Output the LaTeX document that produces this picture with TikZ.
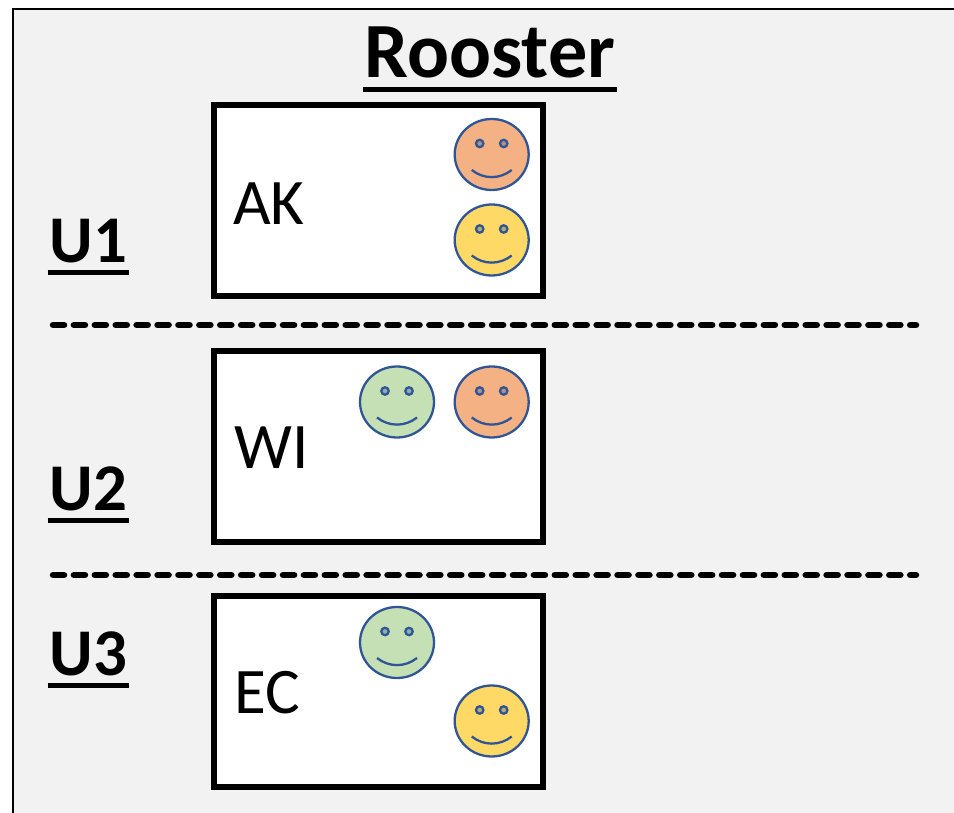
\documentclass[tikz,border=0pt]{standalone}
\usepackage{amssymb,amsmath}
\usepackage{fontspec}
\setmainfont{Carlito}
\definecolor{panelgray}{HTML}{F2F2F2}
\definecolor{faceline}{HTML}{2F5597}
\definecolor{faceorange}{HTML}{F4B183}
\definecolor{faceyellow}{HTML}{FFD966}
\definecolor{facegreen}{HTML}{C5E0B4}
\tikzset{
  rosterbox/.style={draw=black,fill=white,line width=3.3pt,minimum width=187.5pt,minimum height=109pt,inner sep=0pt},
  unitlabel/.style={font=\fontsize{38}{38}\selectfont\bfseries,anchor=base west,inner sep=0pt,text depth=5.4pt},
  namelabel/.style={font=\fontsize{37}{37}\selectfont,anchor=base west,inner sep=0pt},
  rule/.style={line width=2.9pt,shorten <=-1pt,shorten >=-1pt},
  divider/.style={line width=3.7pt,line cap=round,dash pattern=on 6.3pt off 5.6pt}
}
\newcommand{\smiley}[3]{
\begin{scope}[shift={(#1,#2)}]
\filldraw[fill=#3,draw=faceline,line width=1.3pt] (0,0) ellipse (37 and 35.5);
\filldraw[fill=#3!65!faceline,draw=faceline,line width=1.3pt] (-12,-11) circle (3.7);
\filldraw[fill=#3!65!faceline,draw=faceline,line width=1.3pt] (12,-11) circle (3.7);
\draw[draw=faceline,line width=1.3pt] (-20,15.5) .. controls (-8,25) and (8,25) .. (20,15.5);
\end{scope}
}

\begin{document}
\begin{tikzpicture}[x=0.02cm,y=-0.02cm]
\useasboundingbox (0,0) rectangle (954,813);
\fill[panelgray] (13,9) rectangle (954,813);
\draw[line width=1.5pt] (13,813) -- (13,9) -- (954,9);

\node[font=\fontsize{44.5}{44.5}\selectfont\bfseries,anchor=base,inner sep=0pt,text depth=6.2pt] (rooster) at (490,78) {Rooster};
\draw[rule] (rooster.south west) -- (rooster.south east);

\node[rosterbox] (boxak) at (378.5,200.5) {};
\node[rosterbox] (boxwi) at (378.5,446.5) {};
\node[rosterbox] (boxec) at (378.5,691.5) {};

\node[namelabel] (ak) at (233,225) {AK};
\node[namelabel] (wi) at (234,469) {WI};
\node[namelabel] (ec) at (234,714) {EC};

\node[unitlabel] (u1) at (49.5,263) {U1};
\node[unitlabel] (u2) at (49.5,511) {U2};
\node[unitlabel] (u3) at (49.5,676) {U3};
\draw[rule] (u1.south west) -- (u1.south east);
\draw[rule] (u2.south west) -- (u2.south east);
\draw[rule] (u3.south west) -- (u3.south east);

\coordinate (div1a) at (53,325);
\coordinate (div1b) at (916,325);
\coordinate (div2a) at (53,575);
\coordinate (div2b) at (916,575);
\draw[divider] (div1a) -- (div1b);
\draw[divider] (div2a) -- (div2b);

\smiley{491.7}{154.5}{faceorange}
\smiley{491.7}{240}{faceyellow}
\smiley{397}{402}{facegreen}
\smiley{491.7}{402}{faceorange}
\smiley{397}{642.5}{facegreen}
\smiley{491.7}{721}{faceyellow}
\end{tikzpicture}
\end{document}
